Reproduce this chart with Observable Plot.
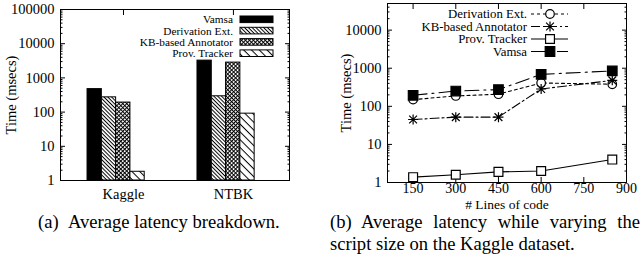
<!DOCTYPE html>
<html>
<head>
<meta charset="utf-8">
<script src="https://cdn.jsdelivr.net/npm/d3@7"></script>
<script src="https://cdn.jsdelivr.net/npm/@observablehq/plot@0.6"></script>
<style>
html,body{margin:0;padding:0;background:#fff;}
#fig{position:relative;width:642px;height:269px;overflow:hidden;background:#fff;font-family:"Liberation Serif","Times New Roman",serif;color:#000;}
#fig > svg, #fig > div{position:absolute;}
.cap{font-size:18.6px;line-height:22px;white-space:normal;}
</style>
</head>
<body>
<div id="fig"></div>
<script>
// ---------- data: chart (a) ----------
const barCategories = ["Kaggle", "NTBK"];
const barSeries = ["Vamsa", "Derivation Ext.", "KB-based Annotator", "Prov. Tracker"];
const barVamsa = [470, 3200];
const barDerivation = [270, 290];
const barKB = [190, 2800];
const barProv = [1.8, 90];
const yTicksA = [1, 10, 100, 1000, 10000, 100000];

// ---------- data: chart (b) ----------
const linesOfCode = [150, 300, 450, 600, 850];
const lineSeries = ["Derivation Ext.", "KB-based Annotator", "Prov. Tracker", "Vamsa"];
const lineDerivation = [150, 187, 208, 410, 380];
const lineKB = [45, 52, 52, 285, 480];
const lineProv = [1.38, 1.6, 1.9, 2.0, 4.0];
const lineVamsa = [195, 252, 275, 690, 850];
const xTicksB = [150, 300, 450, 600, 750, 900];
const yTicksB = [1, 10, 100, 1000, 10000];

const yLabel = "Time (msecs)";
const xLabelB = "# Lines of code";
const captionA = "(a)\u2002Average latency breakdown.";
const captionB = "(b)\u2002Average latency while varying the script size on the Kaggle dataset.";

// ---------- helpers ----------
const NS = "http://www.w3.org/2000/svg";
const fig = document.getElementById("fig");
const minorTicks = (majors, max) => majors.flatMap(m => d3.range(2, 10).map(k => k * m)).filter(v => v <= max);
const fmt = d => String(d);
const FONT = "'Liberation Serif', 'Times New Roman', serif";

// patterns
const defsSvg = document.createElementNS(NS, "svg");
defsSvg.setAttribute("width", 0); defsSvg.setAttribute("height", 0);
defsSvg.style.left = "0"; defsSvg.style.top = "0";
defsSvg.innerHTML = `<defs>
<pattern id="patDeriv" patternUnits="userSpaceOnUse" width="2.7" height="2.7" patternTransform="rotate(45)"><rect width="2.7" height="2.7" fill="#fff"/><rect width="2.7" height="1" fill="#000"/></pattern>
<pattern id="patKB" patternUnits="userSpaceOnUse" width="2.8" height="2.8" patternTransform="rotate(45)"><rect width="2.8" height="2.8" fill="#fff"/><rect width="2.8" height="1" fill="#000"/><rect width="1" height="2.8" fill="#000"/></pattern>
<pattern id="patProv" patternUnits="userSpaceOnUse" width="5.5" height="5.5" patternTransform="rotate(45)"><rect width="5.5" height="5.5" fill="#fff"/><rect width="5.5" height="1" fill="#000"/></pattern>
</defs>`;
fig.appendChild(defsSvg);

// ---------- chart (a) ----------
const barValues = [barVamsa, barDerivation, barKB, barProv];
const barFills = ["#000", "url(#patDeriv)", "url(#patKB)", "url(#patProv)"];
const clusterStart = -0.327, barW = 0.13;
const barData = barCategories.flatMap((c, gi) => barSeries.map((s, si) => ({cat: c, gi, si, series: s, value: barValues[si][gi]})));
const minorA = minorTicks(yTicksA, 100000);
const groupIdx = barCategories.map((c, i) => i);

const plotA = Plot.plot({
  width: 320, height: 206,
  marginLeft: 60, marginRight: 31, marginTop: 9, marginBottom: 26,
  style: {fontFamily: FONT, fontSize: "14.5px", color: "#000", background: "transparent", overflow: "visible"},
  x: {type: "linear", domain: [-0.573, 1.51]},
  y: {type: "log", domain: [1, 100000]},
  marks: [
    Plot.axisY({ticks: yTicksA, tickSize: 0, tickPadding: 6, tickFormat: fmt, label: yLabel, labelAnchor: "center", labelOffset: 55, labelArrow: "none"}),
    Plot.axisY({ticks: yTicksA, tickSize: -5, fill: "none", label: null}),
    Plot.axisY({ticks: minorA, tickSize: -2.5, fill: "none", label: null}),
    Plot.axisY({anchor: "right", ticks: yTicksA, tickSize: -5, fill: "none", label: null}),
    Plot.axisY({anchor: "right", ticks: minorA, tickSize: -2.5, fill: "none", label: null}),
    Plot.axisX({ticks: groupIdx, tickSize: 0, tickPadding: 8, tickFormat: i => barCategories[i], label: null}),
    Plot.axisX({anchor: "top", ticks: groupIdx, tickSize: -5, fill: "none", label: null}),
    Plot.axisX({anchor: "bottom", ticks: groupIdx, tickSize: -5, fill: "none", label: null}),
    ...barSeries.map((s, si) => Plot.rect(barData.filter(d => d.si === si), {
      x1: d => d.gi + clusterStart + d.si * barW,
      x2: d => d.gi + clusterStart + (d.si + 1) * barW,
      y1: () => 1, y2: "value",
      fill: barFills[si], stroke: "#000", strokeWidth: 1
    })),
    Plot.frame({stroke: "#000"})
  ]
});
plotA.style.left = "0px"; plotA.style.top = "0px";
fig.appendChild(plotA);

// ---------- chart (b) ----------
const asterisk = {
  draw(ctx, size) {
    const r = Math.sqrt(size / Math.PI), d = r * 0.78;
    ctx.moveTo(-r, 0); ctx.lineTo(r, 0);
    ctx.moveTo(0, -r); ctx.lineTo(0, r);
    ctx.moveTo(-d, -d); ctx.lineTo(d, d);
    ctx.moveTo(-d, d); ctx.lineTo(d, -d);
  }
};
const lineValues = [lineDerivation, lineKB, lineProv, lineVamsa];
const lineDash = ["3,3", "9,3,2,3", "none", "14,5,2,5"];
const lineSymbols = [d3.symbolCircle, asterisk, d3.symbolSquare, d3.symbolSquare];
const lineSymbolNames = ["circle", asterisk, "square", "square"];
const lineDotFill = ["#fff", "none", "#fff", "#000"];
const lineDotR = [4.3, 5, 5, 5.4];
const minorB = minorTicks(yTicksB, 50000);

const seriesMarks = lineSeries.flatMap((s, si) => {
  const data = linesOfCode.map((x, i) => ({x, y: lineValues[si][i]}));
  return [
    Plot.line(data, {x: "x", y: "y", stroke: "#000", strokeWidth: 1.1, strokeDasharray: lineDash[si]}),
    Plot.dot(data, {x: "x", y: "y", symbol: lineSymbolNames[si], r: lineDotR[si], fill: lineDotFill[si], stroke: "#000", strokeWidth: 1.2})
  ];
});

const plotB = Plot.plot({
  width: 322, height: 210,
  marginLeft: 67, marginRight: 16, marginTop: 3, marginBottom: 28,
  style: {fontFamily: FONT, fontSize: "14.5px", color: "#000", background: "transparent", overflow: "visible"},
  x: {type: "linear", domain: [60, 900]},
  y: {type: "log", domain: [1, 50000]},
  marks: [
    Plot.axisY({ticks: yTicksB, tickSize: 0, tickPadding: 6, tickFormat: fmt, label: yLabel, labelAnchor: "center", labelOffset: 47, labelArrow: "none"}),
    Plot.axisY({ticks: yTicksB, tickSize: -5, fill: "none", label: null}),
    Plot.axisY({ticks: minorB, tickSize: -2.5, fill: "none", label: null}),
    Plot.axisY({anchor: "right", ticks: yTicksB, tickSize: -5, fill: "none", label: null}),
    Plot.axisY({anchor: "right", ticks: minorB, tickSize: -2.5, fill: "none", label: null}),
    Plot.axisX({ticks: xTicksB, tickSize: 0, tickPadding: 1, tickFormat: fmt, fontSize: 14, label: null}),
    Plot.axisX({anchor: "top", ticks: xTicksB, tickSize: -5, fill: "none", label: null}),
    Plot.axisX({anchor: "bottom", ticks: xTicksB, tickSize: -5, fill: "none", label: null}),
    Plot.text([xLabelB], {frameAnchor: "bottom", lineAnchor: "middle", dy: 22, fontSize: 13.5, fill: "#000"}),
    ...seriesMarks,
    Plot.frame({stroke: "#000"})
  ]
});
plotB.style.left = "320px"; plotB.style.top = "0px";
fig.appendChild(plotB);

// ---------- legends (overlay) ----------
const ov = document.createElementNS(NS, "svg");
ov.setAttribute("width", 642); ov.setAttribute("height", 269);
ov.style.left = "0"; ov.style.top = "0"; ov.style.pointerEvents = "none";
ov.setAttribute("font-family", FONT);
function el(name, attrs, text) {
  const e = document.createElementNS(NS, name);
  for (const k in attrs) e.setAttribute(k, attrs[k]);
  if (text != null) e.textContent = text;
  ov.appendChild(e);
  return e;
}
barSeries.forEach((s, i) => {
  const cy = 19.3 + i * 11.3;
  el("text", {x: 233, y: cy, dy: "0.35em", "text-anchor": "end", "font-size": 11.3, fill: "#000"}, s);
  el("rect", {x: 240, y: cy - 3.3, width: 33, height: 6.6, fill: barFills[i], stroke: "#000", "stroke-width": 1});
});
lineSeries.forEach((s, i) => {
  const cy = 14 + i * 12.5;
  el("text", {x: 527, y: cy, dy: "0.35em", "text-anchor": "end", "font-size": 12.8, fill: "#000"}, s);
  el("line", {x1: 531, x2: 568, y1: cy, y2: cy, stroke: "#000", "stroke-width": 1.1, "stroke-dasharray": lineDash[i]});
  el("path", {d: d3.symbol(lineSymbols[i], Math.PI * lineDotR[i] * lineDotR[i])(), transform: `translate(550,${cy})`, fill: lineDotFill[i], stroke: "#000", "stroke-width": 1.2});
});
fig.appendChild(ov);

// ---------- captions ----------
const capA = document.createElement("div");
capA.className = "cap"; capA.style.left = "38px"; capA.style.top = "211px";
capA.textContent = captionA;
fig.appendChild(capA);
const capB = document.createElement("div");
capB.className = "cap"; capB.style.left = "330px"; capB.style.top = "211px"; capB.style.width = "310px"; capB.style.textAlign = "justify";
capB.textContent = captionB;
fig.appendChild(capB);
</script>
</body>
</html>
